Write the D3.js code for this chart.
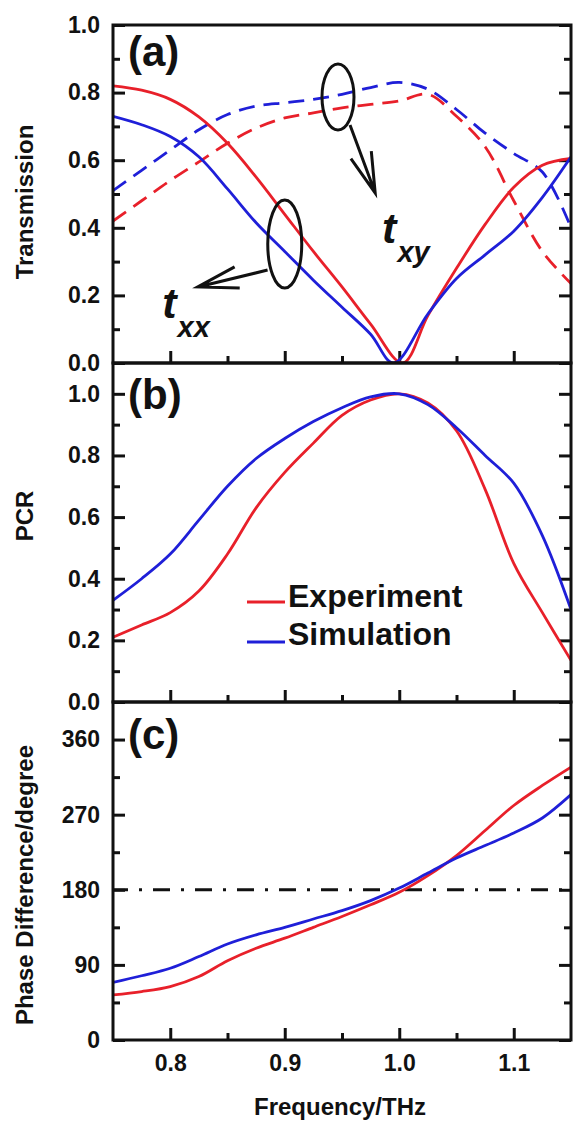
<!DOCTYPE html>
<html>
<head>
<meta charset="utf-8">
<script src="https://cdn.jsdelivr.net/npm/d3@7"></script>
<style>
  body { margin: 0; background: #fff; }
  svg { display: block; }
  text { font-family: "Liberation Sans", Arial, sans-serif; font-weight: bold; fill: #111; }
</style>
</head>
<body>
<div id="chart"></div>
<script>
// ---- data ----
const freq = [0.75, 0.775, 0.8, 0.825, 0.85, 0.875, 0.9, 0.925, 0.95, 0.975, 1.0, 1.025, 1.05, 1.075, 1.1, 1.125, 1.15];

// (a) transmission; t_xx minima sit slightly off 1.0, so they keep their own x values
const txxExpFreq = [0.75, 0.775, 0.8, 0.825, 0.85, 0.875, 0.9, 0.925, 0.95, 0.975, 1.003, 1.025, 1.05, 1.075, 1.1, 1.125, 1.15];
const txxExp = [0.82, 0.807, 0.78, 0.728, 0.65, 0.55, 0.44, 0.33, 0.225, 0.115, 0.0, 0.14, 0.28, 0.41, 0.52, 0.585, 0.605];
const txxSimFreq = [0.75, 0.775, 0.8, 0.825, 0.85, 0.875, 0.9, 0.925, 0.95, 0.975, 0.995, 1.025, 1.05, 1.075, 1.1, 1.125, 1.15];
const txxSim = [0.73, 0.705, 0.67, 0.61, 0.515, 0.415, 0.33, 0.245, 0.165, 0.085, 0.0, 0.145, 0.25, 0.32, 0.39, 0.49, 0.61];
const txyExp = [0.42, 0.48, 0.54, 0.595, 0.65, 0.695, 0.725, 0.74, 0.755, 0.765, 0.775, 0.795, 0.73, 0.64, 0.48, 0.33, 0.235];
const txySim = [0.51, 0.57, 0.63, 0.69, 0.735, 0.76, 0.77, 0.78, 0.795, 0.815, 0.83, 0.81, 0.75, 0.68, 0.62, 0.565, 0.40];

// (b) polarization conversion ratio
const pcrExp = [0.21, 0.25, 0.29, 0.36, 0.48, 0.63, 0.745, 0.84, 0.93, 0.98, 1.0, 0.97, 0.88, 0.69, 0.45, 0.29, 0.135];
const pcrSim = [0.33, 0.40, 0.48, 0.59, 0.70, 0.79, 0.855, 0.91, 0.955, 0.99, 1.0, 0.965, 0.89, 0.80, 0.71, 0.54, 0.30];

// (c) phase difference, degrees
const phaseExp = [54, 58, 64, 76, 95, 110, 122, 135, 148, 162, 177, 197, 221, 251, 281, 305, 327];
const phaseSim = [69, 77, 86, 100, 115, 126, 135, 145, 155, 167, 182, 200, 218, 233, 248, 266, 294];
const phaseRef = 180;

// ticks
const freqMajor = [0.8, 0.9, 1.0, 1.1];
const freqMinor = [0.85, 0.95, 1.05];
const transMajor = [0, 0.2, 0.4, 0.6, 0.8, 1.0];
const transMinor = [0.1, 0.3, 0.5, 0.7, 0.9];
const pcrMajor = [0, 0.2, 0.4, 0.6, 0.8, 1.0];
const pcrMinor = [0.1, 0.3, 0.5, 0.7, 0.9];
const phaseMajor = [0, 90, 180, 270, 360];
const phaseMinor = [45, 135, 225, 315];

// annotations in panel (a), data coordinates [freq, transmission]
const txxCircle = [0.9, 0.352];
const txxArrow = [[0.885, 0.275], [0.824, 0.225]];
const txxLabel = [0.793, 0.133];
const txyCircle = [0.9465, 0.787];
const txyArrow = [[0.957, 0.704], [0.979, 0.503]];
const txyLabel = [0.985, 0.355];

const legendItems = ["Experiment", "Simulation"];

// ---- drawing ----
const width = 574, height = 1122;
const RED = "#e8202a", BLUE = "#1f1fd8";
const svg = d3.select("#chart").append("svg")
  .attr("width", width).attr("height", height);

const x = d3.scaleLinear().domain([0.75, 1.15]).range([113, 571]);

const panels = [
  { key: "a", top: 25, bottom: 363, domain: [0, 1], major: transMajor, minor: transMinor,
    fmt: d3.format(".1f"), label: "(a)", labelY: 66, title: "Transmission", titleY: 202 },
  { key: "b", top: 363, bottom: 702, domain: [0, 1.1], major: pcrMajor, minor: pcrMinor,
    fmt: d3.format(".1f"), label: "(b)", labelY: 409, title: "PCR", titleY: 516 },
  { key: "c", top: 702, bottom: 1040, domain: [0, 405], major: phaseMajor, minor: phaseMinor,
    fmt: d3.format("d"), label: "(c)", labelY: 749, title: "Phase Difference/degree", titleY: 885 }
];

function styleAxis(g) {
  g.select(".domain").remove();
  g.selectAll(".tick line").attr("stroke", "#111").attr("stroke-width", 3);
  g.selectAll(".tick text").attr("font-size", 23).attr("fill", "#111")
    .attr("font-family", '"Liberation Sans", Arial, sans-serif').attr("font-weight", "bold");
}

panels.forEach((p, i) => {
  p.y = d3.scaleLinear().domain(p.domain).range([p.bottom, p.top]);

  svg.append("clipPath").attr("id", "clip-" + p.key)
    .append("rect")
    .attr("x", x.range()[0]).attr("y", p.top)
    .attr("width", x.range()[1] - x.range()[0]).attr("height", p.bottom - p.top);

  // left axis
  svg.append("g").attr("transform", `translate(${x.range()[0]},0)`)
    .call(d3.axisLeft(p.y).tickValues(p.major).tickSize(-12).tickPadding(13).tickFormat(p.fmt))
    .call(styleAxis);
  svg.append("g").attr("transform", `translate(${x.range()[0]},0)`)
    .call(d3.axisLeft(p.y).tickValues(p.minor).tickSize(-7).tickFormat(""))
    .call(styleAxis);
  // right axis
  svg.append("g").attr("transform", `translate(${x.range()[1]},0)`)
    .call(d3.axisRight(p.y).tickValues(p.major).tickSize(-12).tickFormat(""))
    .call(styleAxis);
  svg.append("g").attr("transform", `translate(${x.range()[1]},0)`)
    .call(d3.axisRight(p.y).tickValues(p.minor).tickSize(-7).tickFormat(""))
    .call(styleAxis);
  // bottom axis
  const last = i === panels.length - 1;
  svg.append("g").attr("transform", `translate(0,${p.bottom})`)
    .call(d3.axisBottom(x).tickValues(freqMajor).tickSize(-12).tickPadding(15)
      .tickFormat(last ? d3.format(".1f") : ""))
    .call(styleAxis);
  svg.append("g").attr("transform", `translate(0,${p.bottom})`)
    .call(d3.axisBottom(x).tickValues(freqMinor).tickSize(-7).tickFormat(""))
    .call(styleAxis);

  // y title
  svg.append("text")
    .attr("transform", `translate(33,${p.titleY}) rotate(-90)`)
    .attr("text-anchor", "middle")
    .attr("font-size", 24)
    .text(p.title);

  // panel label
  svg.append("text")
    .attr("x", 128).attr("y", p.labelY)
    .attr("font-size", 42)
    .text(p.label);
});

function drawLine(p, xs, ys, color, dash) {
  const line = d3.line()
    .x(d => x(d[0])).y(d => p.y(d[1]))
    .curve(d3.curveCatmullRom.alpha(0.5));
  svg.append("path")
    .datum(xs.map((f, i) => [f, ys[i]]))
    .attr("clip-path", `url(#clip-${p.key})`)
    .attr("d", line)
    .attr("fill", "none")
    .attr("stroke", color)
    .attr("stroke-width", 2.8)
    .attr("stroke-dasharray", dash || null);
}

const [pa, pb, pc] = panels;

// (a)
drawLine(pa, freq, txyExp, RED, "16,9");
drawLine(pa, freq, txySim, BLUE, "16,9");
drawLine(pa, txxExpFreq, txxExp, RED);
drawLine(pa, txxSimFreq, txxSim, BLUE);

// (b)
drawLine(pb, freq, pcrExp, RED);
drawLine(pb, freq, pcrSim, BLUE);

// (c)
svg.append("line")
  .attr("x1", x.range()[0]).attr("x2", x.range()[1])
  .attr("y1", pc.y(phaseRef)).attr("y2", pc.y(phaseRef))
  .attr("stroke", "#111").attr("stroke-width", 3)
  .attr("stroke-dasharray", "17,11,3,11").attr("stroke-dashoffset", 2);
drawLine(pc, freq, phaseExp, RED);
drawLine(pc, freq, phaseSim, BLUE);

// frames
panels.forEach(p => {
  svg.append("rect")
    .attr("x", x.range()[0]).attr("y", p.top)
    .attr("width", x.range()[1] - x.range()[0]).attr("height", p.bottom - p.top)
    .attr("fill", "none").attr("stroke", "#111").attr("stroke-width", 3);
});

// annotations
function arrow(from, to) {
  const [x0, y0] = [x(from[0]), pa.y(from[1])];
  const [x1, y1] = [x(to[0]), pa.y(to[1])];
  const back = Math.atan2(y0 - y1, x0 - x1);
  const len = 42, spread = 15 * Math.PI / 180;
  const b1 = [x1 + len * Math.cos(back - spread), y1 + len * Math.sin(back - spread)];
  const b2 = [x1 + len * Math.cos(back + spread), y1 + len * Math.sin(back + spread)];
  svg.append("path")
    .attr("d", `M${x0},${y0}L${x1},${y1}M${b1[0]},${b1[1]}L${x1},${y1}L${b2[0]},${b2[1]}`)
    .attr("fill", "none").attr("stroke", "#111").attr("stroke-width", 3)
    .attr("stroke-linejoin", "miter");
}
function ring(c, rx, ry) {
  svg.append("ellipse")
    .attr("cx", x(c[0])).attr("cy", pa.y(c[1]))
    .attr("rx", rx).attr("ry", ry)
    .attr("fill", "none").attr("stroke", "#111").attr("stroke-width", 3);
}
function tLabel(pos, sub) {
  const t = svg.append("text")
    .attr("x", x(pos[0])).attr("y", pa.y(pos[1]))
    .attr("font-style", "italic");
  t.append("tspan").attr("font-size", 43).text("t");
  t.append("tspan").attr("font-size", 29).attr("dx", 1).attr("dy", 19).text(sub);
}
ring(txxCircle, 17, 44);
arrow(txxArrow[0], txxArrow[1]);
tLabel(txxLabel, "xx");
ring(txyCircle, 16, 33);
arrow(txyArrow[0], txyArrow[1]);
tLabel(txyLabel, "xy");

// legend in (b)
const legendColors = [RED, BLUE];
const legend = svg.append("g");
legendItems.forEach((name, i) => {
  const ly = 602 + i * 40;
  legend.append("line")
    .attr("x1", 247).attr("x2", 285).attr("y1", ly).attr("y2", ly)
    .attr("stroke", legendColors[i]).attr("stroke-width", 3);
  legend.append("text")
    .attr("x", 288).attr("y", ly + 5 - i * 2)
    .attr("font-size", 32)
    .text(name);
});

// x title
svg.append("text")
  .attr("x", 340).attr("y", 1115)
  .attr("text-anchor", "middle")
  .attr("font-size", 24)
  .text("Frequency/THz");
</script>
</body>
</html>
